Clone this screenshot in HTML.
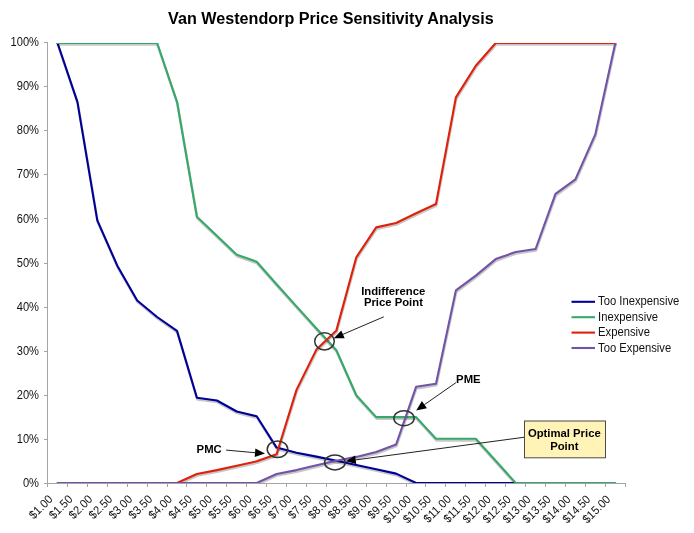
<!DOCTYPE html>
<html><head><meta charset="utf-8"><title>Van Westendorp Price Sensitivity Analysis</title>
<style>
html,body{margin:0;padding:0;background:#fff;}
body{width:694px;height:533px;overflow:hidden;}
svg{display:block;}
svg text{font-family:"Liberation Sans",sans-serif;fill:#111;}
.t{font-size:11.9px;}
.b{font-size:11.3px;font-weight:bold;fill:#000;}
</style></head><body>
<svg width="694" height="533" viewBox="0 0 694 533">
<rect x="0" y="0" width="694" height="533" fill="#ffffff"/>
<defs><clipPath id="plot"><rect x="47" y="43" width="580" height="440"/></clipPath></defs>
<text x="330.9" y="23.8" text-anchor="middle" style="font-size:16.15px;font-weight:bold;fill:#000">Van Westendorp Price Sensitivity Analysis</text>
<text class="t" transform="translate(39,487.1) scale(0.935,1)" text-anchor="end">0%</text>
<text class="t" transform="translate(39,443.0) scale(0.935,1)" text-anchor="end">10%</text>
<text class="t" transform="translate(39,398.9) scale(0.935,1)" text-anchor="end">20%</text>
<text class="t" transform="translate(39,354.8) scale(0.935,1)" text-anchor="end">30%</text>
<text class="t" transform="translate(39,310.7) scale(0.935,1)" text-anchor="end">40%</text>
<text class="t" transform="translate(39,266.6) scale(0.935,1)" text-anchor="end">50%</text>
<text class="t" transform="translate(39,222.5) scale(0.935,1)" text-anchor="end">60%</text>
<text class="t" transform="translate(39,178.4) scale(0.935,1)" text-anchor="end">70%</text>
<text class="t" transform="translate(39,134.3) scale(0.935,1)" text-anchor="end">80%</text>
<text class="t" transform="translate(39,90.2) scale(0.935,1)" text-anchor="end">90%</text>
<text class="t" transform="translate(39,46.1) scale(0.935,1)" text-anchor="end">100%</text>
<text class="t" text-anchor="end" transform="translate(53.4,500) rotate(-45) scale(0.935,1)">$1.00</text>
<text class="t" text-anchor="end" transform="translate(73.3,500) rotate(-45) scale(0.935,1)">$1.50</text>
<text class="t" text-anchor="end" transform="translate(93.2,500) rotate(-45) scale(0.935,1)">$2.00</text>
<text class="t" text-anchor="end" transform="translate(113.2,500) rotate(-45) scale(0.935,1)">$2.50</text>
<text class="t" text-anchor="end" transform="translate(133.1,500) rotate(-45) scale(0.935,1)">$3.00</text>
<text class="t" text-anchor="end" transform="translate(153.0,500) rotate(-45) scale(0.935,1)">$3.50</text>
<text class="t" text-anchor="end" transform="translate(172.9,500) rotate(-45) scale(0.935,1)">$4.00</text>
<text class="t" text-anchor="end" transform="translate(192.8,500) rotate(-45) scale(0.935,1)">$4.50</text>
<text class="t" text-anchor="end" transform="translate(212.8,500) rotate(-45) scale(0.935,1)">$5.00</text>
<text class="t" text-anchor="end" transform="translate(232.7,500) rotate(-45) scale(0.935,1)">$5.50</text>
<text class="t" text-anchor="end" transform="translate(252.6,500) rotate(-45) scale(0.935,1)">$6.00</text>
<text class="t" text-anchor="end" transform="translate(272.5,500) rotate(-45) scale(0.935,1)">$6.50</text>
<text class="t" text-anchor="end" transform="translate(292.4,500) rotate(-45) scale(0.935,1)">$7.00</text>
<text class="t" text-anchor="end" transform="translate(312.4,500) rotate(-45) scale(0.935,1)">$7.50</text>
<text class="t" text-anchor="end" transform="translate(332.3,500) rotate(-45) scale(0.935,1)">$8.00</text>
<text class="t" text-anchor="end" transform="translate(352.2,500) rotate(-45) scale(0.935,1)">$8.50</text>
<text class="t" text-anchor="end" transform="translate(372.1,500) rotate(-45) scale(0.935,1)">$9.00</text>
<text class="t" text-anchor="end" transform="translate(392.0,500) rotate(-45) scale(0.935,1)">$9.50</text>
<text class="t" text-anchor="end" transform="translate(412.0,500) rotate(-45) scale(0.935,1)">$10.00</text>
<text class="t" text-anchor="end" transform="translate(431.9,500) rotate(-45) scale(0.935,1)">$10.50</text>
<text class="t" text-anchor="end" transform="translate(451.8,500) rotate(-45) scale(0.935,1)">$11.00</text>
<text class="t" text-anchor="end" transform="translate(471.7,500) rotate(-45) scale(0.935,1)">$11.50</text>
<text class="t" text-anchor="end" transform="translate(491.6,500) rotate(-45) scale(0.935,1)">$12.00</text>
<text class="t" text-anchor="end" transform="translate(511.6,500) rotate(-45) scale(0.935,1)">$12.50</text>
<text class="t" text-anchor="end" transform="translate(531.5,500) rotate(-45) scale(0.935,1)">$13.00</text>
<text class="t" text-anchor="end" transform="translate(551.4,500) rotate(-45) scale(0.935,1)">$13.50</text>
<text class="t" text-anchor="end" transform="translate(571.3,500) rotate(-45) scale(0.935,1)">$14.00</text>
<text class="t" text-anchor="end" transform="translate(591.2,500) rotate(-45) scale(0.935,1)">$14.50</text>
<text class="t" text-anchor="end" transform="translate(611.2,500) rotate(-45) scale(0.935,1)">$15.00</text>
<g clip-path="url(#plot)" fill="none" stroke-linejoin="round" stroke-linecap="round">
<polyline points="57.5,43.0 77.4,101.8 97.3,220.3 117.3,265.7 137.2,300.5 157.1,317.0 177.0,330.9 196.9,397.8 216.9,400.5 236.8,411.5 256.7,416.3 276.6,447.6 296.5,452.7 316.5,456.6 336.4,460.8 356.3,465.0 376.2,469.2 396.1,473.6 416.1,483.0 436.0,483.0 455.9,483.0 475.8,483.0 495.7,483.0 515.7,483.0" stroke="#000" stroke-opacity="0.22" stroke-width="2.5" transform="translate(0.4,1.6)"/>
<polyline points="57.5,43.0 77.4,101.8 97.3,220.3 117.3,265.7 137.2,300.5 157.1,317.0 177.0,330.9 196.9,397.8 216.9,400.5 236.8,411.5 256.7,416.3 276.6,447.6 296.5,452.7 316.5,456.6 336.4,460.8 356.3,465.0 376.2,469.2 396.1,473.6 416.1,483.0 436.0,483.0 455.9,483.0 475.8,483.0 495.7,483.0 515.7,483.0" stroke="#000099" stroke-width="2.1"/>
<polyline points="57.5,43.0 77.4,43.0 97.3,43.0 117.3,43.0 137.2,43.0 157.1,43.0 177.0,101.8 196.9,216.8 216.9,235.7 236.8,254.7 256.7,261.7 276.6,284.2 296.5,306.4 316.5,328.5 336.4,350.3 356.3,395.2 376.2,417.1 396.1,417.1 416.1,417.1 436.0,438.8 455.9,438.8 475.8,438.8 495.7,460.8 515.7,483.0 535.6,483.0 555.5,483.0 575.4,483.0 595.3,483.0 615.3,483.0" stroke="#000" stroke-opacity="0.22" stroke-width="2.5" transform="translate(0.4,1.6)"/>
<polyline points="57.5,43.0 77.4,43.0 97.3,43.0 117.3,43.0 137.2,43.0 157.1,43.0 177.0,101.8 196.9,216.8 216.9,235.7 236.8,254.7 256.7,261.7 276.6,284.2 296.5,306.4 316.5,328.5 336.4,350.3 356.3,395.2 376.2,417.1 396.1,417.1 416.1,417.1 436.0,438.8 455.9,438.8 475.8,438.8 495.7,460.8 515.7,483.0 535.6,483.0 555.5,483.0 575.4,483.0 595.3,483.0 615.3,483.0" stroke="#36a869" stroke-width="2.1"/>
<polyline points="177.0,483.0 196.9,474.0 216.9,470.1 236.8,465.7 256.7,461.3 276.6,454.2 296.5,389.9 316.5,349.4 336.4,330.4 356.3,257.3 376.2,227.4 396.1,223.0 416.1,213.3 436.0,204.0 455.9,97.4 475.8,65.7 495.7,43.0 515.7,43.0 535.6,43.0 555.5,43.0 575.4,43.0 595.3,43.0 615.3,43.0" stroke="#000" stroke-opacity="0.22" stroke-width="2.5" transform="translate(0.4,1.6)"/>
<polyline points="177.0,483.0 196.9,474.0 216.9,470.1 236.8,465.7 256.7,461.3 276.6,454.2 296.5,389.9 316.5,349.4 336.4,330.4 356.3,257.3 376.2,227.4 396.1,223.0 416.1,213.3 436.0,204.0 455.9,97.4 475.8,65.7 495.7,43.0 515.7,43.0 535.6,43.0 555.5,43.0 575.4,43.0 595.3,43.0 615.3,43.0" stroke="#e0200a" stroke-width="2.1"/>
<polyline points="57.5,483.0 77.4,483.0 97.3,483.0 117.3,483.0 137.2,483.0 157.1,483.0 177.0,483.0 196.9,483.0 216.9,483.0 236.8,483.0 256.7,483.0 276.6,474.0 296.5,470.1 316.5,465.2 336.4,460.8 356.3,456.9 376.2,452.0 396.1,444.5 416.1,386.8 436.0,383.7 455.9,290.4 475.8,275.6 495.7,259.1 515.7,252.0 535.6,249.0 555.5,193.9 575.4,179.4 595.3,134.4 615.3,43.0" stroke="#000" stroke-opacity="0.22" stroke-width="2.5" transform="translate(0.4,1.6)"/>
<polyline points="57.5,483.0 77.4,483.0 97.3,483.0 117.3,483.0 137.2,483.0 157.1,483.0 177.0,483.0 196.9,483.0 216.9,483.0 236.8,483.0 256.7,483.0 276.6,474.0 296.5,470.1 316.5,465.2 336.4,460.8 356.3,456.9 376.2,452.0 396.1,444.5 416.1,386.8 436.0,383.7 455.9,290.4 475.8,275.6 495.7,259.1 515.7,252.0 535.6,249.0 555.5,193.9 575.4,179.4 595.3,134.4 615.3,43.0" stroke="#7253a8" stroke-width="2.1"/>
</g>
<g stroke="#a4a4a4" stroke-width="1" fill="none" shape-rendering="crispEdges">
<line x1="47.5" y1="42" x2="47.5" y2="484"/>
<line x1="47.5" y1="483.5" x2="625.5" y2="483.5"/>
<line x1="44" y1="483.5" x2="47.5" y2="483.5"/>
<line x1="44" y1="439.5" x2="47.5" y2="439.5"/>
<line x1="44" y1="395.5" x2="47.5" y2="395.5"/>
<line x1="44" y1="351.5" x2="47.5" y2="351.5"/>
<line x1="44" y1="307.5" x2="47.5" y2="307.5"/>
<line x1="44" y1="263.5" x2="47.5" y2="263.5"/>
<line x1="44" y1="218.5" x2="47.5" y2="218.5"/>
<line x1="44" y1="174.5" x2="47.5" y2="174.5"/>
<line x1="44" y1="130.5" x2="47.5" y2="130.5"/>
<line x1="44" y1="86.5" x2="47.5" y2="86.5"/>
<line x1="44" y1="42.5" x2="47.5" y2="42.5"/>
<line x1="47.5" y1="483.5" x2="47.5" y2="487"/>
<line x1="67.5" y1="483.5" x2="67.5" y2="487"/>
<line x1="87.5" y1="483.5" x2="87.5" y2="487"/>
<line x1="107.5" y1="483.5" x2="107.5" y2="487"/>
<line x1="127.5" y1="483.5" x2="127.5" y2="487"/>
<line x1="147.5" y1="483.5" x2="147.5" y2="487"/>
<line x1="167.5" y1="483.5" x2="167.5" y2="487"/>
<line x1="186.5" y1="483.5" x2="186.5" y2="487"/>
<line x1="206.5" y1="483.5" x2="206.5" y2="487"/>
<line x1="226.5" y1="483.5" x2="226.5" y2="487"/>
<line x1="246.5" y1="483.5" x2="246.5" y2="487"/>
<line x1="266.5" y1="483.5" x2="266.5" y2="487"/>
<line x1="286.5" y1="483.5" x2="286.5" y2="487"/>
<line x1="306.5" y1="483.5" x2="306.5" y2="487"/>
<line x1="326.5" y1="483.5" x2="326.5" y2="487"/>
<line x1="346.5" y1="483.5" x2="346.5" y2="487"/>
<line x1="366.5" y1="483.5" x2="366.5" y2="487"/>
<line x1="386.5" y1="483.5" x2="386.5" y2="487"/>
<line x1="406.5" y1="483.5" x2="406.5" y2="487"/>
<line x1="425.5" y1="483.5" x2="425.5" y2="487"/>
<line x1="445.5" y1="483.5" x2="445.5" y2="487"/>
<line x1="465.5" y1="483.5" x2="465.5" y2="487"/>
<line x1="485.5" y1="483.5" x2="485.5" y2="487"/>
<line x1="505.5" y1="483.5" x2="505.5" y2="487"/>
<line x1="525.5" y1="483.5" x2="525.5" y2="487"/>
<line x1="545.5" y1="483.5" x2="545.5" y2="487"/>
<line x1="565.5" y1="483.5" x2="565.5" y2="487"/>
<line x1="585.5" y1="483.5" x2="585.5" y2="487"/>
<line x1="605.5" y1="483.5" x2="605.5" y2="487"/>
<line x1="625.5" y1="483.5" x2="625.5" y2="487"/>
</g>
<line x1="571.5" y1="301.8" x2="595" y2="301.8" stroke="#000099" stroke-width="2.1"/>
<text class="t" transform="translate(598,305.4) scale(0.947,1)">Too Inexpensive</text>
<line x1="571.5" y1="317.2" x2="595" y2="317.2" stroke="#36a869" stroke-width="2.1"/>
<text class="t" transform="translate(598,320.8) scale(0.947,1)">Inexpensive</text>
<line x1="571.5" y1="332.6" x2="595" y2="332.6" stroke="#e0200a" stroke-width="2.1"/>
<text class="t" transform="translate(598,336.2) scale(0.947,1)">Expensive</text>
<line x1="571.5" y1="348.0" x2="595" y2="348.0" stroke="#7253a8" stroke-width="2.1"/>
<text class="t" transform="translate(598,351.6) scale(0.947,1)">Too Expensive</text>
<g fill="none" stroke="#333" stroke-width="1.5">
<ellipse cx="324.5" cy="341.3" rx="9.8" ry="8.6"/>
<ellipse cx="277.5" cy="449.2" rx="10.3" ry="8.3"/>
<ellipse cx="334.9" cy="462.4" rx="10.3" ry="7.5"/>
<ellipse cx="404" cy="418.2" rx="10.1" ry="7.5"/>
</g>
<line x1="383.8" y1="316.8" x2="343.0" y2="334.3" stroke="#222" stroke-width="1"/>
<polygon points="333.8,338.3 341.3,330.4 344.7,338.3" fill="#000"/>
<line x1="226.1" y1="450.1" x2="255.0" y2="452.7" stroke="#222" stroke-width="1"/>
<polygon points="265.0,453.6 254.7,457.0 255.4,448.4" fill="#000"/>
<line x1="456.0" y1="382.6" x2="424.4" y2="404.7" stroke="#222" stroke-width="1"/>
<polygon points="416.2,410.4 421.9,401.1 426.9,408.2" fill="#000"/>
<line x1="524.5" y1="437.2" x2="355.7" y2="459.9" stroke="#222" stroke-width="1"/>
<polygon points="345.8,461.2 355.1,455.6 356.3,464.1" fill="#000"/>
<text class="b" x="393.2" y="294.6" text-anchor="middle">Indifference</text>
<text class="b" x="393.4" y="306.4" text-anchor="middle">Price Point</text>
<text class="b" x="196.6" y="452.5">PMC</text>
<text class="b" x="456.1" y="383">PME</text>
<rect x="524.5" y="421" width="81" height="36.8" fill="#fff3b8" stroke="#4a4a4a" stroke-width="1"/>
<text class="b" x="564.3" y="437.3" text-anchor="middle">Optimal Price</text>
<text class="b" x="564.3" y="449.8" text-anchor="middle">Point</text>
</svg>
</body></html>
